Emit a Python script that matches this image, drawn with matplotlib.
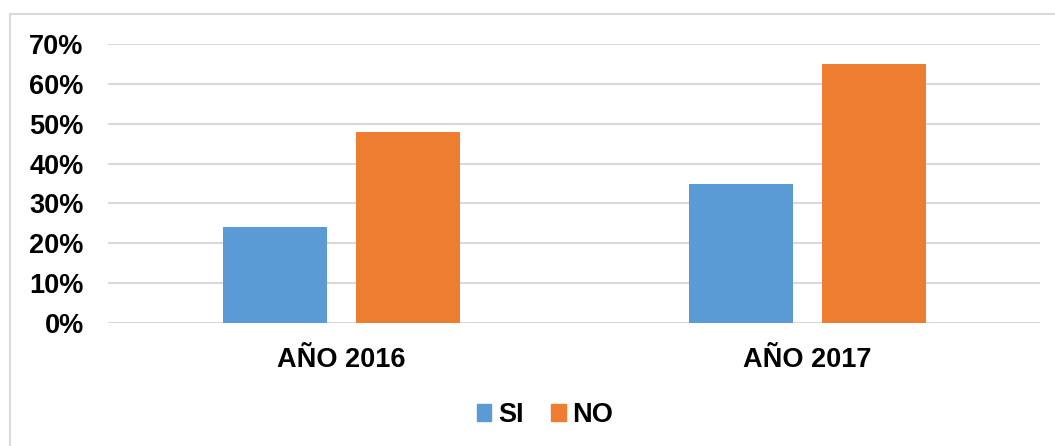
import matplotlib
matplotlib.use("Agg")
import matplotlib.pyplot as plt
from matplotlib.lines import Line2D
from matplotlib.patches import Patch
import numpy as np

categories = ["AÑO 2016", "AÑO 2017"]
series_names = ["SI", "NO"]
si_values = [0.24, 0.35]
no_values = [0.48, 0.65]
y_ticks = [0.0, 0.1, 0.2, 0.3, 0.4, 0.5, 0.6, 0.7]
y_tick_labels = ["0%", "10%", "20%", "30%", "40%", "50%", "60%", "70%"]

colors = ["#5B9BD5", "#ED7D31"]
plt.rcParams['font.family'] = ['Liberation Sans', 'DejaVu Sans']

W, H = 1055, 446
fig = plt.figure(figsize=(W / 100, H / 100), dpi=100)

# outer chart border (top and left visible)
fig.add_artist(Line2D([10 / W, 10 / W], [0, 1 - 14 / H], transform=fig.transFigure,
                      color="#D9D9D9", lw=1.5))
fig.add_artist(Line2D([10 / W, 1], [1 - 14 / H, 1 - 14 / H], transform=fig.transFigure,
                      color="#D9D9D9", lw=1.5))

left, right = 108 / W, 1040 / W
bottom, top = (H - 323.3) / H, (H - 43.7) / H
ax = fig.add_axes([left, bottom, right - left, top - bottom])

x = np.arange(len(categories))
width = 104 / 466
off = 133 / 2 / 466
ax.bar(x - off, si_values, width, color=colors[0], zorder=3)
ax.bar(x + off, no_values, width, color=colors[1], zorder=3)

ax.set_xlim(-0.5, len(categories) - 0.5)
ax.set_ylim(0, 0.7)
ax.set_yticks(y_ticks)
ax.set_yticklabels(y_tick_labels, fontsize=19.5, fontweight="bold")
ax.set_xticks(x)
ax.set_xticklabels(categories, fontsize=19.5, fontweight="bold")
ax.tick_params(axis="both", length=0)
ax.tick_params(axis="y", pad=17.5)
ax.tick_params(axis="x", pad=17)
ax.yaxis.grid(True, color="#D9D9D9", lw=1.5, zorder=0)
for s in ax.spines.values():
    s.set_visible(False)
ax.set_facecolor("none")

handles = [Patch(color=colors[0], label=series_names[0]),
           Patch(color=colors[1], label=series_names[1])]
fig.legend(handles=handles, loc="center", bbox_to_anchor=(545 / W, 1 - 415 / H),
           ncol=2, frameon=False, prop={"size": 19.5, "weight": "bold"},
           handlelength=0.55, handleheight=0.55, handletextpad=0.25,
           columnspacing=1.0)

fig.savefig("out.png", dpi=100)
